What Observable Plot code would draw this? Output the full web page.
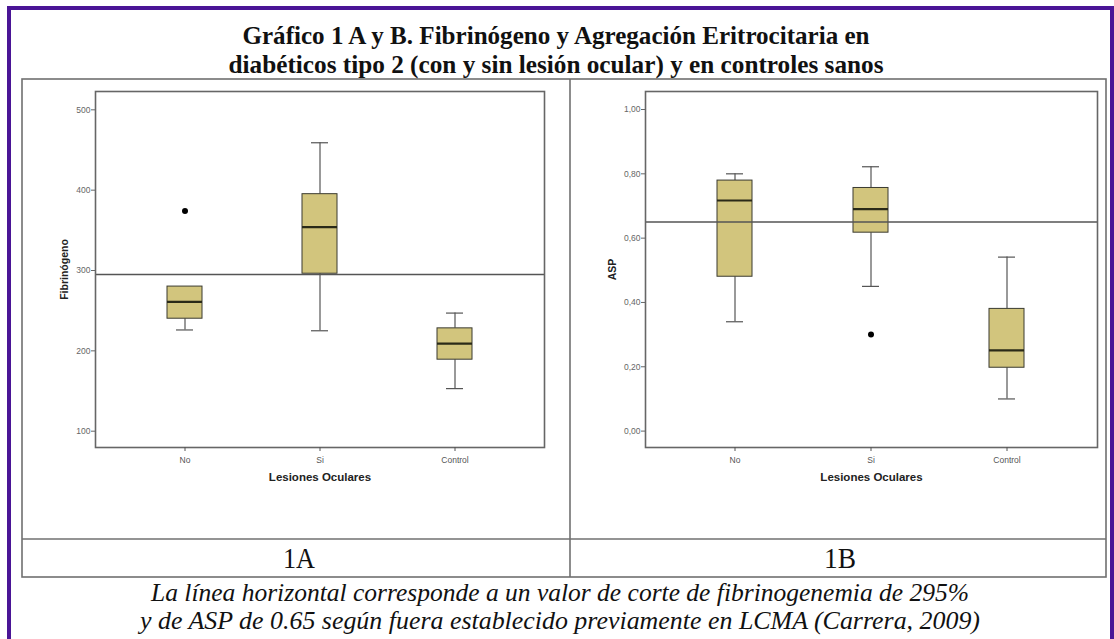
<!DOCTYPE html>
<html><head><meta charset="utf-8">
<script src="https://cdn.jsdelivr.net/npm/d3@7"></script>
<script src="https://cdn.jsdelivr.net/npm/@observablehq/plot@0.6"></script>
<style>
body{margin:0;background:#fff;}
#page{position:relative;width:1114px;height:639px;overflow:hidden;background:#fff;}
.chart{position:absolute;}
#overlay{position:absolute;left:0;top:0;pointer-events:none;}
.serif{font-family:'Liberation Serif','Times New Roman';}
</style></head><body><div id="page"></div>
<script>
// ---- data ----
const categories = ["No", "Si", "Control"];
const fibMin    = [226, 225, 153];
const fibQ1     = [240, 296, 189];
const fibMedian = [261, 354, 209];
const fibQ3     = [280, 395, 228];
const fibMax    = [280, 459, 247];
const fibOutCat = ["No"];
const fibOutVal = [374];
const fibCut = 295;
const fibTicks = [100, 200, 300, 400, 500];

const aspMin    = [0.34, 0.45, 0.10];
const aspQ1     = [0.48, 0.617, 0.197];
const aspMedian = [0.717, 0.69, 0.251];
const aspQ3     = [0.779, 0.756, 0.38];
const aspMax    = [0.80, 0.822, 0.541];
const aspOutCat = ["Si"];
const aspOutVal = [0.30];
const aspCut = 0.65;
const aspTicks = [0, 0.2, 0.4, 0.6, 0.8, 1.0];

const titleLines = ["Gráfico 1 A y B. Fibrinógeno y Agregación Eritrocitaria en",
                    "diabéticos tipo 2 (con y sin lesión ocular) y en controles sanos"];
const panelLabels = ["1A", "1B"];
const captionLines = ["La línea horizontal corresponde a un valor de corte de fibrinogenemia de 295%",
                      "y de ASP de 0.65 según fuera establecido previamente en LCMA (Carrera, 2009)"];
const xLabel = "Lesiones Oculares";

function stats(mins, q1s, meds, q3s, maxs) {
  return categories.map((c, i) => ({cat: c, min: mins[i], q1: q1s[i], median: meds[i], q3: q3s[i], max: maxs[i]}));
}

const fill = "#d2c57d";
function boxChart(o) {
  const s = o.stats;
  return Plot.plot({
    width: o.width, height: o.height,
    marginLeft: o.ml, marginRight: o.mr, marginTop: o.mt, marginBottom: o.mb,
    style: {background: "transparent", fontFamily: "'Liberation Sans', Arial, Helvetica, sans-serif", overflow: "visible"},
    x: {type: "band", domain: categories, paddingInner: 0.74, paddingOuter: 0.53, axis: null},
    y: {domain: o.yDomain, axis: null},
    marks: [
      Plot.ruleX(s.filter(d => d.max > d.q3), {x: "cat", y1: "q3", y2: "max", stroke: "#555", strokeWidth: 1.2}),
      Plot.ruleX(s.filter(d => d.min < d.q1), {x: "cat", y1: "min", y2: "q1", stroke: "#555", strokeWidth: 1.2}),
      Plot.tickY(s.filter(d => d.max > d.q3), {x: "cat", y: "max", stroke: "#555", strokeWidth: 1.2, insetLeft: 9, insetRight: 9}),
      Plot.tickY(s.filter(d => d.min < d.q1), {x: "cat", y: "min", stroke: "#555", strokeWidth: 1.2, insetLeft: 9, insetRight: 9}),
      Plot.barY(s, {x: "cat", y1: "q1", y2: "q3", fill: fill, stroke: "#3a3a30", strokeWidth: 1}),
      Plot.tickY(s, {x: "cat", y: "median", stroke: "#2a2a18", strokeWidth: 2.2}),
      Plot.ruleY([o.cut], {stroke: "#555", strokeWidth: 1.5}),
      Plot.dot(o.outCat.map((c, i) => ({cat: c, v: o.outVal[i]})), {x: "cat", y: "v", r: 3, fill: "#000", stroke: "none"}),
      Plot.frame({stroke: "#666", strokeWidth: 1.6}),
      Plot.axisY({ticks: o.yTicks, tickFormat: o.tickFormat, tickSize: 4, tickPadding: 1, fontSize: 8.5, fill: "#666", stroke: "#666", label: null}),
      Plot.axisX({tickSize: 4, tickPadding: 5, fontSize: 8.5, fill: "#555", stroke: "#555", label: null}),
      Plot.text([o.yLabel], {frameAnchor: "left", textAnchor: "middle", dx: o.yLabelDx, rotate: -90, fontWeight: "bold", fontSize: 10.5, fill: "#222"}),
      Plot.text([xLabel], {frameAnchor: "bottom", textAnchor: "middle", dy: 33, fontWeight: "bold", fontSize: 11.5, fill: "#222"})
    ]
  });
}

const page = document.getElementById("page");

const left = boxChart({
  stats: stats(fibMin, fibQ1, fibMedian, fibQ3, fibMax),
  outCat: fibOutCat, outVal: fibOutVal, cut: fibCut,
  yDomain: [79.7, 522.8], yTicks: fibTicks, tickFormat: d => String(d),
  yLabel: "Fibrinógeno", yLabelDx: -31,
  width: 548, height: 460, ml: 73, mr: 26, mt: 12, mb: 92
});
left.classList.add("chart");
left.style.left = "22px"; left.style.top = "79px";
page.appendChild(left);

const right = boxChart({
  stats: stats(aspMin, aspQ1, aspMedian, aspQ3, aspMax),
  outCat: aspOutCat, outVal: aspOutVal, cut: aspCut,
  yDomain: [-0.051, 1.056], yTicks: aspTicks, tickFormat: d => d.toFixed(2).replace(".", ","),
  yLabel: "ASP", yLabelDx: -33,
  width: 536, height: 460, ml: 75, mr: 9, mt: 12, mb: 92
});
right.classList.add("chart");
right.style.left = "570px"; right.style.top = "79px";
page.appendChild(right);

// overlay: border, table lines, title, panel labels, caption
const ns = "http://www.w3.org/2000/svg";
const ov = document.createElementNS(ns, "svg");
ov.setAttribute("id", "overlay");
ov.setAttribute("width", 1114); ov.setAttribute("height", 639);
page.appendChild(ov);
function el(tag, attrs, text) {
  const e = document.createElementNS(ns, tag);
  for (const k in attrs) e.setAttribute(k, attrs[k]);
  if (text != null) e.textContent = text;
  ov.appendChild(e);
  return e;
}
el("rect", {x: 9, y: 8, width: 1103, height: 700, fill: "none", stroke: "#4a1596", "stroke-width": 4});
el("rect", {x: 22, y: 79, width: 1084, height: 498, fill: "none", stroke: "#707070", "stroke-width": 1.6});
el("line", {x1: 22, x2: 1106, y1: 539, y2: 539, stroke: "#707070", "stroke-width": 1.6});
el("line", {x1: 570, x2: 570, y1: 79, y2: 577, stroke: "#707070", "stroke-width": 1.6});
const texts = [
  [{x: 556, y: 44, "font-weight": "bold", "font-size": 26}, 627, titleLines[0]],
  [{x: 556, y: 73, "font-weight": "bold", "font-size": 26}, 655, titleLines[1]],
  [{x: 299, y: 568, "font-size": 29}, 32, panelLabels[0]],
  [{x: 840, y: 568, "font-size": 29}, 32, panelLabels[1]],
  [{x: 560, y: 601, "font-style": "italic", "font-size": 26}, 818, captionLines[0]],
  [{x: 560, y: 629, "font-style": "italic", "font-size": 26}, 840, captionLines[1]]
];
for (const [a, len, str] of texts) {
  el("text", Object.assign({class: "serif", "text-anchor": "middle", fill: "#111", textLength: len, lengthAdjust: "spacingAndGlyphs"}, a), str);
}
</script>
</body></html>
